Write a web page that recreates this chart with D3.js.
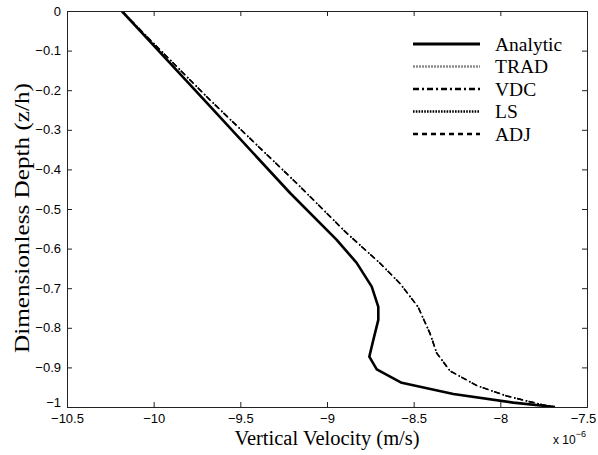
<!DOCTYPE html>
<html><head><meta charset="utf-8">
<script src="https://cdn.jsdelivr.net/npm/d3@7"></script>
<style>body{margin:0;background:#fff}svg{display:block}</style>
</head><body><svg id="c" width="598" height="455"></svg>
<script>
// ---- data (velocity in units of 1e-6 m/s, depth z/h) ----
const analyticDepth = [0, -0.2247, -0.4596, -0.578, -0.636, -0.696, -0.747, -0.780, -0.831, -0.873, -0.905, -0.939, -0.967, -0.989, -1.0];
const analyticVel   = [-10.184, -9.709, -9.213, -8.944, -8.829, -8.742, -8.704, -8.704, -8.733, -8.756, -8.713, -8.569, -8.271, -7.925, -7.685];
const numDepth = [0, -0.05, -0.2247, -0.435, -0.561, -0.637, -0.688, -0.747, -0.814, -0.864, -0.909, -0.946, -0.972, -0.995, -1.0];
const tradVel = [-10.184, -10.072, -9.675, -9.175, -8.886, -8.694, -8.579, -8.475, -8.406, -8.367, -8.290, -8.135, -7.965, -7.752, -7.685];
const vdcVel  = [-10.184, -10.072, -9.675, -9.175, -8.886, -8.694, -8.579, -8.475, -8.406, -8.367, -8.290, -8.135, -7.965, -7.752, -7.685];
const lsVel   = [-10.184, -10.072, -9.675, -9.175, -8.886, -8.694, -8.579, -8.475, -8.406, -8.367, -8.290, -8.135, -7.965, -7.752, -7.685];
const adjVel  = [-10.184, -10.072, -9.675, -9.175, -8.886, -8.694, -8.579, -8.475, -8.406, -8.367, -8.290, -8.135, -7.965, -7.752, -7.685];
const seriesNames = ["Analytic", "TRAD", "VDC", "LS", "ADJ"];
const xTicks = [-10.5, -10, -9.5, -9, -8.5, -8, -7.5];
const yTicks = [0, -0.1, -0.2, -0.3, -0.4, -0.5, -0.6, -0.7, -0.8, -0.9, -1];

// ---- layout ----
const W = 598, H = 455;
const m = {l: 67, r: 11, t: 11, b: 48};
const svg = d3.select("#c");
const x = d3.scaleLinear().domain([-10.5, -7.5]).range([m.l, W - m.r]);
const y = d3.scaleLinear().domain([-1, 0]).range([H - m.b, m.t]);

const styles = {
  "Analytic": {stroke: "#000", width: 2.6, dash: null},
  "TRAD": {stroke: "#b0b0b0", width: 1.0, dash: "1,2"},
  "VDC": {stroke: "#000", width: 1.5, dash: "6,3,1.5,1.5"},
  "LS": {stroke: "#000", width: 1.5, dash: "1.5,10.5", offset: -9},
  "ADJ": {stroke: "#000", width: 1.5, dash: "6,6"}
};
const legendStyles = {
  "Analytic": {stroke: "#000", width: 2.8, dash: null},
  "TRAD": {stroke: "#8c8c8c", width: 2.4, dash: "2,1"},
  "VDC": {stroke: "#000", width: 2.4, dash: "6,3,2,3"},
  "LS": {stroke: "#000", width: 2.4, dash: "1.6,1.2"},
  "ADJ": {stroke: "#000", width: 2.4, dash: "5,4"}
};

const data = {
  "Analytic": analyticVel.map((v, i) => [v, analyticDepth[i]]),
  "TRAD": tradVel.map((v, i) => [v, numDepth[i]]),
  "LS": lsVel.map((v, i) => [v, numDepth[i]]),
  "ADJ": adjVel.map((v, i) => [v, numDepth[i]]),
  "VDC": vdcVel.map((v, i) => [v, numDepth[i]])
};

const line = d3.line().x(d => x(d[0])).y(d => y(d[1]));
svg.append("clipPath").attr("id", "pc").append("rect")
  .attr("x", m.l).attr("y", m.t).attr("width", W - m.l - m.r).attr("height", H - m.t - m.b);

const g = svg.append("g").attr("clip-path", "url(#pc)");
["TRAD", "LS", "ADJ", "VDC", "Analytic"].forEach(name => {
  const s = styles[name];
  g.append("path").datum(data[name]).attr("d", line)
    .attr("fill", "none").attr("stroke", s.stroke).attr("stroke-width", s.width)
    .attr("stroke-dasharray", s.dash).attr("stroke-dashoffset", s.offset || 0)
    .attr("stroke-linejoin", "round");
});

// ---- axes (MATLAB style, inward ticks, boxed) ----
const fmt = d => d3.format("")(d).replace("-", "\u2212");
const axCol = "#222";
const tickLen = 5;
const axBottom = svg.append("g").attr("transform", `translate(0,${H - m.b})`)
  .call(d3.axisBottom(x).tickValues(xTicks).tickSize(-tickLen).tickPadding(7).tickFormat(fmt));
const axTop = svg.append("g").attr("transform", `translate(0,${m.t})`)
  .call(d3.axisTop(x).tickValues(xTicks).tickSize(-tickLen).tickFormat(""));
const axLeft = svg.append("g").attr("transform", `translate(${m.l},0)`)
  .call(d3.axisLeft(y).tickValues(yTicks).tickSize(-tickLen).tickPadding(6).tickFormat(fmt));
const axRight = svg.append("g").attr("transform", `translate(${W - m.r},0)`)
  .call(d3.axisRight(y).tickValues(yTicks).tickSize(-tickLen).tickFormat(""));
[axBottom, axTop, axLeft, axRight].forEach(a => {
  a.select(".domain").attr("stroke", axCol).attr("stroke-width", 1);
  a.selectAll(".tick line").attr("stroke", axCol);
  a.selectAll("text").attr("font-family", "Liberation Sans, Arial, sans-serif")
    .attr("font-size", 13).attr("fill", "#000");
});
axBottom.selectAll(".tick text").filter(d => d === -7.5).attr("dx", -4);
axLeft.selectAll(".tick text").filter(d => d === -1).attr("dy", "-0.05em");

// axis labels
svg.append("text").attr("x", (m.l + W - m.r) / 2).attr("y", 445)
  .attr("text-anchor", "middle").attr("font-family", "Liberation Serif, Times New Roman, serif")
  .attr("font-size", 20.5).text("Vertical Velocity (m/s)");
svg.append("text").attr("transform", `translate(29,218) rotate(-90)`)
  .attr("text-anchor", "middle").attr("font-family", "Liberation Serif, Times New Roman, serif")
  .attr("font-size", 21).attr("textLength", 270).attr("lengthAdjust", "spacingAndGlyphs")
  .text("Dimensionless Depth (z/h)");
const expo = svg.append("text").attr("x", 553).attr("y", 444)
  .attr("font-family", "Liberation Sans, Arial, sans-serif").attr("font-size", 12);
expo.append("tspan").text("x 10");
expo.append("tspan").attr("dy", -7).attr("font-size", 9).text("\u22126");

// legend
const lg = svg.append("g");
seriesNames.forEach((name, i) => {
  const yy = 44 + i * 22.5;
  const s = legendStyles[name];
  lg.append("line").attr("x1", 413).attr("x2", 480).attr("y1", yy).attr("y2", yy)
    .attr("stroke", s.stroke).attr("stroke-width", s.width).attr("stroke-dasharray", s.dash);
  lg.append("text").attr("x", 495).attr("y", yy + 6.5)
    .attr("font-family", "Liberation Serif, Times New Roman, serif").attr("font-size", 19.5)
    .text(name);
});
</script></body></html>
